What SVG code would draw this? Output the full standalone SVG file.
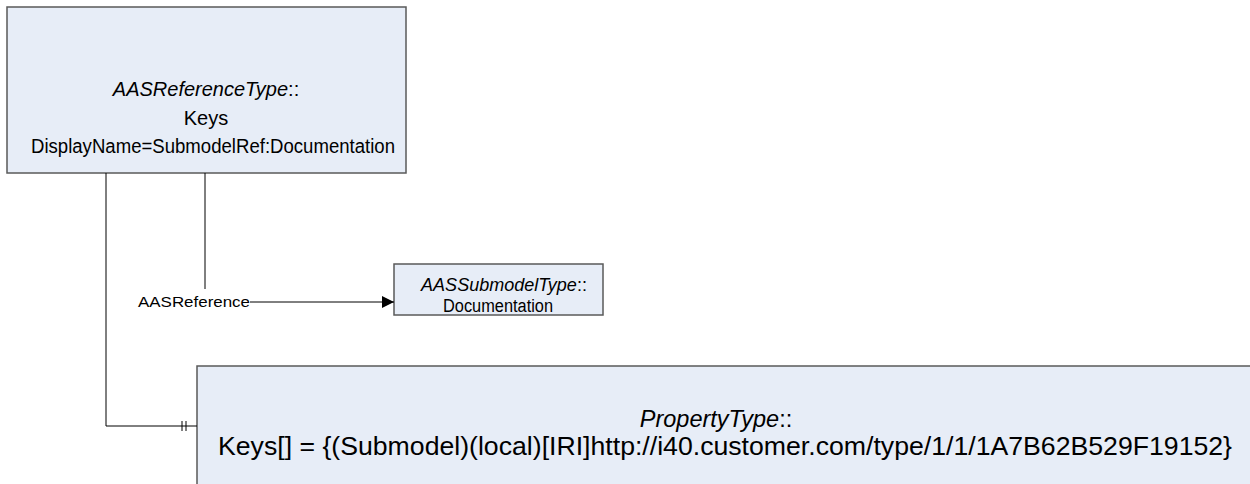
<svg xmlns="http://www.w3.org/2000/svg" width="1250" height="484" viewBox="0 0 1250 484">
<defs>
<style>
.box{fill:#E7EDF7;stroke:#5A5A5A;stroke-width:1.5}
.t{font-family:"Liberation Sans",Arial,sans-serif;font-size:20px;fill:#000;text-anchor:middle}
.s{font-size:18px}
.p{font-size:23.5px}
.b{font-size:26.5px}
.i{font-style:italic}
.ln{fill:none;stroke:#000;stroke-width:1}
.lbl{font-family:"Liberation Sans",Arial,sans-serif;font-size:15px;fill:#000;text-anchor:middle}
</style>
<marker id="arr" markerWidth="12" markerHeight="12" refX="12" refY="6" orient="auto" markerUnits="userSpaceOnUse">
<path d="M0,0 L12,6 L0,12 Z" fill="#000"/>
</marker>
</defs>
<g id="node-ref">
<rect class="box" x="7" y="7" width="399" height="166"/>
<text class="t" x="206" y="96"><tspan class="i">AASReferenceType</tspan>::</text>
<text class="t" x="206" y="125">Keys</text>
<text class="t" x="213" y="153" textLength="364" lengthAdjust="spacingAndGlyphs">DisplayName=SubmodelRef:Documentation</text>
</g>
<g id="node-submodel">
<rect class="box" x="394" y="264" width="209" height="51"/>
<text class="t s" x="504" y="291"><tspan class="i">AASSubmodelType</tspan>::</text>
<text class="t s" x="498" y="312" textLength="110" lengthAdjust="spacingAndGlyphs">Documentation</text>
</g>
<g id="node-property">
<rect class="box" x="197" y="366" width="1060" height="130"/>
<text class="t p" x="716" y="427"><tspan class="i">PropertyType</tspan>::</text>
<text class="t b" x="725" y="455" textLength="1014" lengthAdjust="spacingAndGlyphs">Keys[] = {(Submodel)(local)[IRI]http://i40.customer.com/type/1/1/1A7B62B529F19152}</text>
</g>
<g id="connectors">
<polyline class="ln" points="106,173 106,426 197,426"/>
<line class="ln" x1="182" y1="421" x2="182" y2="431"/>
<line class="ln" x1="186" y1="421" x2="186" y2="431"/>
<line class="ln" x1="205" y1="173" x2="205" y2="289"/>
<line class="ln" x1="250" y1="302" x2="394" y2="302" marker-end="url(#arr)"/>
<text class="lbl" x="194" y="307" textLength="112" lengthAdjust="spacingAndGlyphs">AASReference</text>
</g>
</svg>
